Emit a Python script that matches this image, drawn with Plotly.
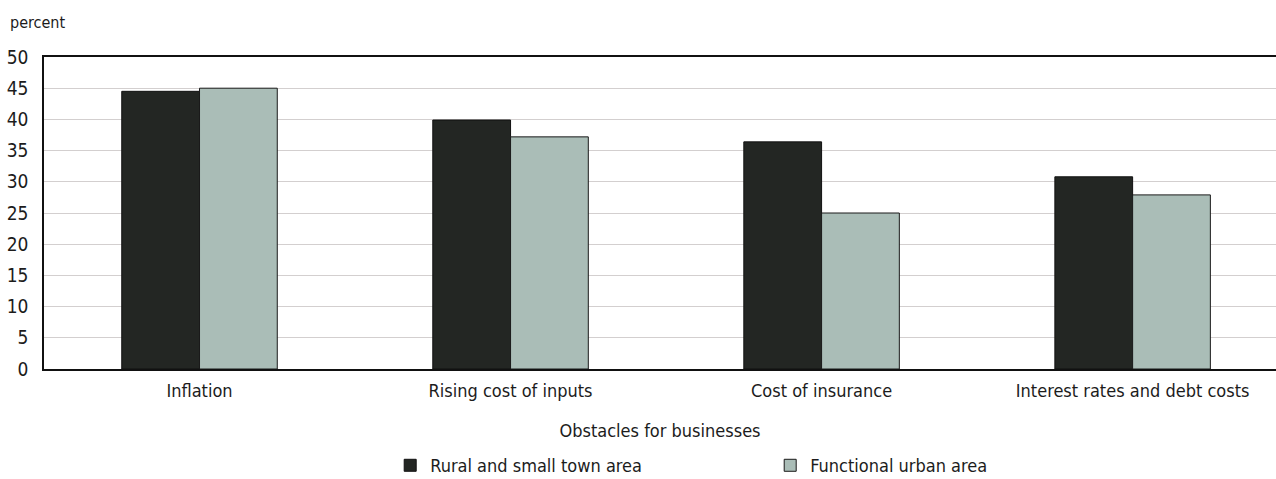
import plotly.graph_objects as go

categories = ["Inflation", "Rising cost of inputs", "Cost of insurance", "Interest rates and debt costs"]
rural = [44.5, 39.9, 36.4, 30.8]
urban = [45.0, 37.2, 25.0, 27.9]
series_names = ["Rural and small town area", "Functional urban area"]
y_ticks = [0, 5, 10, 15, 20, 25, 30, 35, 40, 45, 50]

FONT = "Liberation Sans Narrow, DejaVu Sans Condensed, Arial Narrow, sans-serif"
INK = "#1c1c1c"

fig = go.Figure()
fig.add_trace(go.Bar(
    x=categories, y=rural, name=series_names[0],
    marker=dict(color="#232623", line=dict(color="#111111", width=1)),
))
fig.add_trace(go.Bar(
    x=categories, y=urban, name=series_names[1],
    marker=dict(color="#aabdb7", line=dict(color="#1a1a1a", width=1)),
))

fig.update_layout(
    width=1276, height=479,
    margin=dict(l=44, r=0, t=57, b=110, autoexpand=False),
    paper_bgcolor="white", plot_bgcolor="white",
    barmode="group", bargap=0.5, bargroupgap=0,
    font=dict(family=FONT, color=INK, size=16),
    showlegend=True,
    legend=dict(
        orientation="h", x=0.281, xanchor="left",
        yref="container", y=0.028, yanchor="middle",
        font=dict(size=18, family=FONT, color=INK),
        entrywidth=335, entrywidthmode="pixels", itemwidth=30,
        traceorder="normal",
    ),
    annotations=[dict(
        text="percent", xref="paper", yref="paper", x=-0.029, y=1.0,
        xanchor="left", yanchor="bottom", yshift=23, showarrow=False,
        font=dict(size=16, family=FONT, color=INK),
    )],
)

fig.update_xaxes(
    range=[-0.5, 3.461],
    showline=True, linecolor="#111111", linewidth=1.5, mirror=True,
    showgrid=False, ticks="", ticklabelstandoff=5,
    tickfont=dict(size=18, family=FONT, color=INK),
    title=dict(text="Obstacles for businesses", font=dict(size=18, family=FONT, color=INK), standoff=24),
)
fig.update_yaxes(
    range=[0, 50], tickvals=y_ticks,
    showline=True, linecolor="#111111", linewidth=1.5,
    showgrid=True, gridcolor="#d3cfcf", gridwidth=1.2,
    ticks="", ticklabelstandoff=10,
    tickfont=dict(size=19, family=FONT, color=INK),
    zeroline=False,
)

fig.write_html("out.html")
